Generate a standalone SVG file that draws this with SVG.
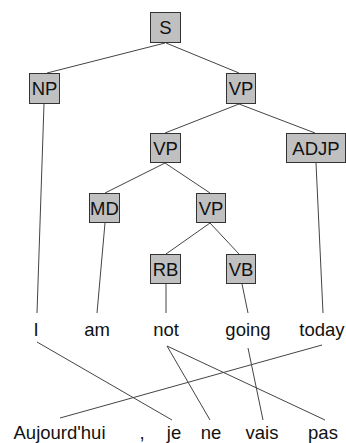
<svg xmlns="http://www.w3.org/2000/svg" width="346" height="443" viewBox="0 0 346 443">
<style>
.box{fill:#c0c0c0;stroke:#333;stroke-width:1}
.lbl{font-family:"Liberation Sans",Arial,sans-serif;font-size:18.5px;fill:#111;text-anchor:middle}
.e{stroke:#444;stroke-width:1;fill:none}
</style>
<rect width="346" height="443" fill="#fff"/>
<g id="connectors">
<line class="e" x1="165" y1="43" x2="47" y2="73"/>
<line class="e" x1="166" y1="43" x2="239" y2="73"/>
<line class="e" x1="239" y1="104" x2="165" y2="133"/>
<line class="e" x1="239" y1="104" x2="315" y2="133"/>
<line class="e" x1="165" y1="163" x2="105" y2="193"/>
<line class="e" x1="165" y1="163" x2="210" y2="193"/>
<line class="e" x1="210" y1="223" x2="166" y2="254"/>
<line class="e" x1="210" y1="223" x2="239" y2="254"/>
<line class="e" x1="44" y1="104" x2="37" y2="313"/>
<line class="e" x1="105" y1="223" x2="97" y2="313"/>
<line class="e" x1="166" y1="284" x2="166" y2="313"/>
<line class="e" x1="242" y1="284" x2="248" y2="313"/>
<line class="e" x1="316" y1="163" x2="323" y2="313"/>
<line class="e" x1="37" y1="342" x2="172" y2="420"/>
<line class="e" x1="167" y1="346" x2="210" y2="420"/>
<line class="e" x1="167" y1="346" x2="325" y2="420"/>
<line class="e" x1="248" y1="348" x2="263" y2="420"/>
<line class="e" x1="322" y1="345" x2="60" y2="418"/>
</g>
<g id="S"><rect class="box" x="150.5" y="12.5" width="30" height="30"/><text class="lbl" x="165.5" y="34">S</text></g>
<g id="NP"><rect class="box" x="29.5" y="73.5" width="30" height="30"/><text class="lbl" x="44.5" y="95">NP</text></g>
<g id="VP1"><rect class="box" x="226.5" y="73.5" width="29" height="30"/><text class="lbl" x="241" y="95">VP</text></g>
<g id="VP2"><rect class="box" x="150.5" y="133.5" width="30" height="29"/><text class="lbl" x="165.5" y="154.5">VP</text></g>
<g id="ADJP"><rect class="box" x="286.5" y="133.5" width="59" height="29"/><text class="lbl" x="316" y="154.5">ADJP</text></g>
<g id="MD"><rect class="box" x="89.5" y="193.5" width="30" height="29"/><text class="lbl" x="104.5" y="214.5">MD</text></g>
<g id="VP3"><rect class="box" x="196.5" y="193.5" width="29" height="29"/><text class="lbl" x="211" y="214.5">VP</text></g>
<g id="RB"><rect class="box" x="150.5" y="254.5" width="30" height="29"/><text class="lbl" x="165.5" y="275.5">RB</text></g>
<g id="VB"><rect class="box" x="226.5" y="254.5" width="29" height="29"/><text class="lbl" x="241" y="275.5">VB</text></g>
<g id="w-I"><text class="lbl" x="36" y="336">I</text></g>
<g id="w-am"><text class="lbl" x="97" y="336">am</text></g>
<g id="w-not"><text class="lbl" x="166" y="336">not</text></g>
<g id="w-going"><text class="lbl" x="248" y="336">going</text></g>
<g id="w-today"><text class="lbl" x="322" y="336">today</text></g>
<g id="f-aujourdhui"><text class="lbl" x="59.5" y="438.5">Aujourd'hui</text></g>
<g id="f-comma"><text class="lbl" x="142" y="438.5">,</text></g>
<g id="f-je"><text class="lbl" x="174" y="438.5">je</text></g>
<g id="f-ne"><text class="lbl" x="211" y="438.5">ne</text></g>
<g id="f-vais"><text class="lbl" x="262" y="438.5">vais</text></g>
<g id="f-pas"><text class="lbl" x="323" y="438.5">pas</text></g>
</svg>
